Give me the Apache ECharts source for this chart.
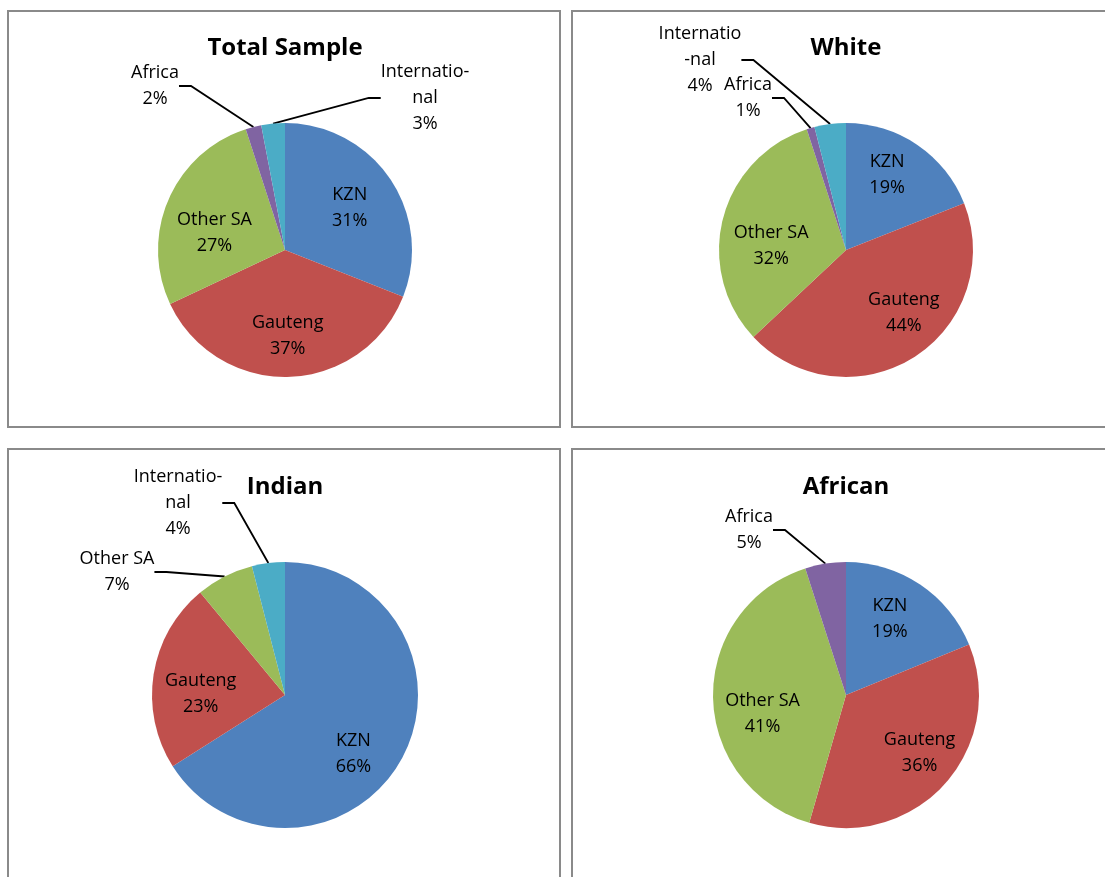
<!DOCTYPE html>
<html>
<head>
<meta charset="utf-8">
<script src="https://cdn.jsdelivr.net/npm/echarts@6/dist/echarts.min.js"></script>
<style>
  html, body { margin: 0; padding: 0; background: #fff; overflow: hidden; }
  #chart { width: 1105px; height: 877px; }
</style>
</head>
<body>
<div id="chart"></div>
<script>
// slice order as in the workbook, clockwise from 12 o'clock
var names = ['KZN', 'Gauteng', 'Other SA', 'Africa', 'International'];
var colors = ['#4F81BD', '#C0504D', '#9BBB59', '#8064A2', '#4BACC6'];

// percentages per group (0 = not present in that group)
var totalSample = [31, 37, 27, 2, 3];
var white = [19, 44, 32, 1, 4];
var indian = [66, 23, 7, 0, 4];
var african = [19, 36, 41, 5, 0];

var FONT = '"Open Sans", "Noto Sans", sans-serif';

// outside: label centre relative to the pie centre
// nudge: small shifts of the in-slice labels (Excel "best fit")
var panels = [
    { title: 'Total Sample', values: totalSample, box: [8, 11, 552, 416], center: [285, 250], r: 127, titleY: 36,
      intl: 'Internatio-\nnal', outside: { 'Africa': [-130, -164], 'International': [140, -152] },
      nudge: { 'KZN': [-6, 6], 'Other SA': [8, 17] } },
    { title: 'White', values: white, box: [572, 11, 560, 416], center: [846, 250], r: 127, titleY: 36,
      intl: 'Internatio\n-nal', outside: { 'International': [-146, -190], 'Africa': [-98, -152] },
      nudge: { 'KZN': [-7, -4], 'Gauteng': [12, -9], 'Other SA': [8, 17] } },
    { title: 'Indian', values: indian, box: [8, 449, 552, 440], center: [285, 695], r: 133, titleY: 475,
      intl: 'Internatio-\nnal', outside: { 'International': [-107, -192], 'Other SA': [-168, -123] },
      nudge: { 'KZN': [-10, 16], 'Gauteng': [4, 13] } },
    { title: 'African', values: african, box: [572, 449, 560, 440], center: [846, 695], r: 133, titleY: 475,
      intl: 'Internatio-\nnal', outside: { 'Africa': [-97, -165] },
      nudge: { 'KZN': [-6, -2], 'Gauteng': [7, -2], 'Other SA': [6, 17] } }
];

var labelText = {
    color: '#000',
    fontFamily: FONT,
    fontSize: 18,
    lineHeight: 26
};

var titles = [];
var series = [];
var graphics = [];

panels.forEach(function (p) {
    var items = [];
    p.values.forEach(function (v, i) {
        if (v > 0) {
            items.push({ name: names[i], value: v, color: colors[i] });
        }
    });

    var fmt = function (params) {
        var n = params.name === 'International' ? p.intl : params.name;
        return n + '\n' + params.value + '%';
    };

    graphics.push({
        type: 'rect',
        shape: { x: p.box[0], y: p.box[1], width: p.box[2], height: p.box[3] },
        style: { fill: '#fff', stroke: '#8a8a8a', lineWidth: 2 },
        z: -1
    });

    titles.push({
        text: p.title,
        left: p.center[0],
        top: p.titleY,
        textAlign: 'center',
        padding: 0,
        textStyle: { fontFamily: FONT, fontSize: 24, fontWeight: 'bold', color: '#000' }
    });

    // the slices, with the leader-line labels for the thin ones
    series.push({
        type: 'pie',
        center: p.center,
        radius: p.r,
        startAngle: 90,
        clockwise: true,
        animation: false,
        avoidLabelOverlap: false,
        label: Object.assign({ position: 'outside', formatter: fmt, align: 'center' }, labelText),
        labelLine: { length: 20, length2: 12, lineStyle: { color: '#000', width: 1.8 } },
        labelLayout: function (params) {
            var off = p.outside[items[params.dataIndex].name];
            if (!off) return;
            return {
                x: p.center[0] + off[0],
                y: p.center[1] + off[1],
                align: 'center',
                verticalAlign: 'middle'
            };
        },
        emphasis: { disabled: true },
        data: items.map(function (it) {
            var out = !!p.outside[it.name];
            return {
                name: it.name,
                value: it.value,
                itemStyle: { color: it.color },
                label: { show: out },
                labelLine: { show: out }
            };
        })
    });

    // invisible ring used only to place the in-slice labels further out
    series.push({
        type: 'pie',
        center: p.center,
        radius: [p.r * 0.55, p.r * 0.75],
        startAngle: 90,
        clockwise: true,
        animation: false,
        silent: true,
        avoidLabelOverlap: false,
        itemStyle: { color: 'rgba(0,0,0,0)' },
        label: Object.assign({ position: 'inside', formatter: fmt }, labelText),
        labelLine: { show: false },
        labelLayout: function (params) {
            var d = p.nudge[items[params.dataIndex].name];
            if (!d) return;
            return { dx: d[0], dy: d[1] };
        },
        data: items.map(function (it) {
            return {
                name: it.name,
                value: it.value,
                label: { show: !p.outside[it.name] }
            };
        })
    });
});

var myChart = echarts.init(document.getElementById('chart'), null, { renderer: 'canvas' });
myChart.setOption({
    backgroundColor: '#fff',
    title: titles,
    graphic: graphics,
    series: series
});
</script>
</body>
</html>
